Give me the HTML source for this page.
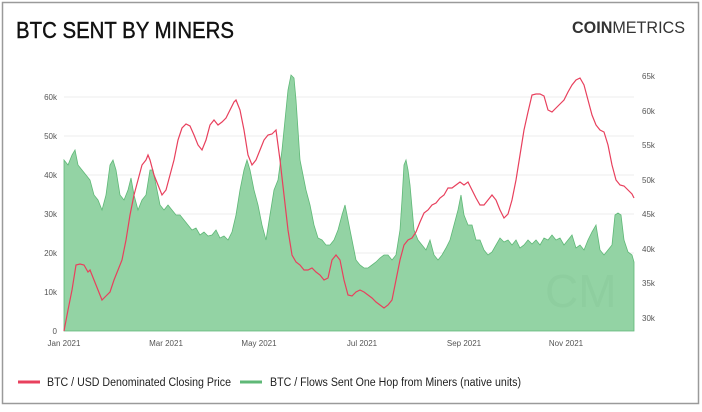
<!DOCTYPE html>
<html><head><meta charset="utf-8"><style>
body{margin:0;background:#fff;width:702px;height:407px;overflow:hidden;font-family:"Liberation Sans",sans-serif}
</style></head><body>
<svg width="702" height="407" xmlns="http://www.w3.org/2000/svg" font-family="Liberation Sans, sans-serif">
<rect x="2.5" y="2.5" width="696" height="401" fill="#fff" stroke="#9a9a9a" stroke-width="1.5"/>
<text x="16" y="38" font-size="23" fill="#111" stroke="#111" stroke-width="0.4" textLength="218" lengthAdjust="spacingAndGlyphs">BTC SENT BY MINERS</text>
<text x="572" y="33" font-size="17" fill="#333" textLength="113" lengthAdjust="spacingAndGlyphs"><tspan font-weight="bold">COIN</tspan>METRICS</text>
<g stroke="#ececec" stroke-width="1">
<line x1="64" x2="634" y1="97" y2="97"/><line x1="64" x2="634" y1="136" y2="136"/><line x1="64" x2="634" y1="175" y2="175"/><line x1="64" x2="634" y1="214" y2="214"/><line x1="64" x2="634" y1="253" y2="253"/><line x1="64" x2="634" y1="292" y2="292"/>
</g>
<g font-size="8" fill="#555" text-anchor="end">
<text x="57" y="100">60k</text><text x="57" y="139">50k</text><text x="57" y="178">40k</text><text x="57" y="217">30k</text><text x="57" y="256">20k</text><text x="57" y="295">10k</text><text x="57" y="334">0</text>
</g>
<g font-size="8" fill="#555">
<text x="642" y="79">65k</text><text x="642" y="114">60k</text><text x="642" y="148">55k</text><text x="642" y="183">50k</text><text x="642" y="217">45k</text><text x="642" y="252">40k</text><text x="642" y="286">35k</text><text x="642" y="321">30k</text>
</g>
<g font-size="8" fill="#555" text-anchor="middle">
<text x="64" y="346">Jan 2021</text><text x="166" y="346">Mar 2021</text><text x="259" y="346">May 2021</text><text x="362" y="346">Jul 2021</text><text x="464" y="346">Sep 2021</text><text x="566" y="346">Nov 2021</text>
</g>
<polygon fill="#93d3a4" stroke="#5fb877" stroke-width="0.8" points="64,331 64,160 68,165 72,155 75,150 78,165 82,170 86,175 90,180 94,195 98,200 102,210 106,195 110,165 113,160 116,170 120,195 124,200 128,190 131,178 134,195 138,210 142,200 146,195 150,170 153,170 156,185 160,205 164,210 168,205 172,210 176,215 180,215 184,220 188,225 192,230 196,228 200,235 204,232 208,236 212,235 216,230 220,238 224,236 228,240 232,232 236,215 240,190 244,170 247,160 250,170 254,190 258,205 262,225 266,240 270,215 274,190 278,180 282,150 285,120 288,90 291,75 294,78 296,100 298,130 300,160 303,175 306,190 310,205 314,225 318,238 322,240 326,245 330,245 334,240 338,230 342,215 345,205 348,220 352,240 356,260 360,265 364,268 368,268 372,265 376,262 380,258 384,255 388,255 392,260 396,255 400,230 402,200 404,165 406,160 408,170 410,185 414,230 418,240 422,245 426,250 430,240 434,255 438,260 442,255 446,248 450,240 454,225 458,210 461,195 464,215 468,225 472,225 476,240 480,240 484,250 488,255 492,252 496,245 500,238 504,242 508,240 512,245 516,240 520,248 524,245 528,240 532,244 536,240 540,245 544,238 548,240 552,235 556,240 560,238 564,245 568,240 572,235 576,248 580,245 584,250 588,240 592,232 596,225 600,250 604,255 608,250 612,245 615,215 618,213 621,215 624,240 628,252 632,255 634,262 634,331"/>
<text x="545" y="307" font-size="46" fill="#86c596" opacity="0.35">CM</text>
<polyline fill="none" stroke="#e8405d" stroke-width="1.2" points="64,331 68,310 72,290 76,265 80,264 84,265 88,272 90,270 94,280 98,290 102,300 106,296 110,292 114,280 118,270 122,260 126,240 130,215 134,195 138,180 142,165 146,160 148,155 150,160 154,175 158,185 162,195 166,190 170,175 174,160 178,140 182,128 186,124 190,126 194,135 198,145 202,150 206,140 210,125 214,120 218,125 222,122 226,118 230,110 234,102 236,100 240,110 244,130 248,155 252,165 256,160 260,150 264,140 268,135 272,134 276,130 280,160 284,195 288,230 292,255 296,262 300,265 304,270 308,270 312,268 316,272 320,275 324,280 328,278 332,260 336,255 340,260 344,280 348,295 352,296 356,292 360,290 364,292 368,295 372,298 376,302 380,305 384,308 388,305 392,300 396,280 400,260 404,245 408,240 412,238 416,232 420,222 424,213 428,210 432,205 436,203 440,198 444,195 448,188 452,188 456,185 460,182 464,185 468,182 472,190 476,198 480,205 484,205 488,200 492,195 496,200 500,210 504,218 508,214 512,200 516,180 520,155 524,130 528,112 532,95 536,94 540,94 544,96 548,110 552,112 556,108 560,104 564,100 568,92 572,85 576,80 580,78 584,85 588,100 592,115 596,125 600,130 604,132 608,145 612,165 616,180 620,185 624,186 628,190 632,194 634,198"/>
<line x1="18" x2="40" y1="382" y2="382" stroke="#e8405d" stroke-width="3"/>
<text x="47" y="386" font-size="11.5" fill="#222" textLength="184" lengthAdjust="spacingAndGlyphs">BTC / USD Denominated Closing Price</text>
<line x1="240" x2="262" y1="382" y2="382" stroke="#5fb877" stroke-width="3"/>
<text x="270" y="386" font-size="11.5" fill="#222" textLength="251" lengthAdjust="spacingAndGlyphs">BTC / Flows Sent One Hop from Miners (native units)</text>
</svg>
</body></html>
